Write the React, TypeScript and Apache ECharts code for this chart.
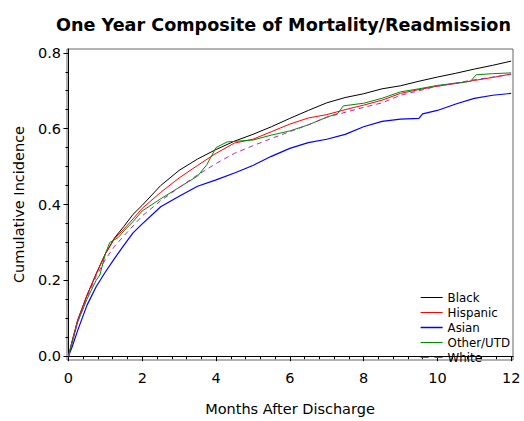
import React, { useEffect, useRef } from "react";
import * as echarts from "echarts";

// [months, cumulative incidence]
const black: [number, number][] = [
  [0, 0], [0.1, 0.04], [0.25, 0.095], [0.5, 0.16], [0.75, 0.217], [1, 0.27], [1.25, 0.312], [1.5, 0.342],
  [1.75, 0.374], [2, 0.398], [2.5, 0.45], [3, 0.49], [3.5, 0.52], [4, 0.545], [4.5, 0.567], [5, 0.585],
  [5.5, 0.605], [6, 0.627], [6.5, 0.648], [7, 0.668], [7.5, 0.682], [8, 0.692], [8.5, 0.705], [9, 0.713],
  [9.5, 0.725], [10, 0.736], [10.5, 0.746], [11, 0.757], [11.5, 0.767], [12, 0.778],
];
const hispanic: [number, number][] = [
  [0, 0], [0.1, 0.04], [0.25, 0.095], [0.5, 0.16], [0.75, 0.217], [1, 0.27], [1.25, 0.31], [1.5, 0.335],
  [1.75, 0.362], [2, 0.39], [2.5, 0.432], [3, 0.47], [3.5, 0.503], [4, 0.535], [4.5, 0.562], [5, 0.572],
  [5.5, 0.592], [6, 0.612], [6.5, 0.628], [7, 0.637], [7.5, 0.65], [8, 0.662], [8.5, 0.675], [9, 0.693],
  [9.5, 0.703], [10, 0.712], [10.5, 0.719], [11, 0.727], [11.5, 0.735], [12, 0.744],
];
const asian: [number, number][] = [
  [0, 0], [0.1, 0.025], [0.25, 0.068], [0.5, 0.134], [0.75, 0.183], [1, 0.222], [1.25, 0.258], [1.5, 0.292],
  [1.75, 0.325], [2, 0.349], [2.5, 0.394], [3, 0.422], [3.5, 0.448], [4, 0.465], [4.5, 0.483], [5, 0.503],
  [5.5, 0.527], [6, 0.548], [6.5, 0.563], [7, 0.572], [7.5, 0.585], [8, 0.605], [8.5, 0.619], [9, 0.625],
  [9.5, 0.627], [9.6, 0.639], [10, 0.648], [10.5, 0.665], [11, 0.68], [11.5, 0.688], [12, 0.693],
];
const otherUTD: [number, number][] = [
  [0, 0], [0.1, 0.035], [0.25, 0.09], [0.5, 0.15], [0.75, 0.2], [0.85, 0.214], [1, 0.27], [1.12, 0.3],
  [1.35, 0.313], [1.5, 0.33], [1.75, 0.355], [2, 0.383], [2.5, 0.415], [3, 0.445], [3.5, 0.475], [3.75, 0.505],
  [4, 0.55], [4.3, 0.565], [5, 0.57], [5.5, 0.583], [6, 0.594], [6.5, 0.61], [7, 0.63], [7.3, 0.64],
  [7.45, 0.66], [8, 0.667], [8.5, 0.68], [9, 0.697], [9.5, 0.705], [10, 0.714], [10.5, 0.72], [10.9, 0.725],
  [11.05, 0.742], [11.5, 0.745], [12, 0.747],
];
const white: [number, number][] = [
  [0, 0], [0.1, 0.038], [0.25, 0.09], [0.5, 0.155], [0.75, 0.21], [1, 0.255], [1.25, 0.29], [1.5, 0.317],
  [2, 0.37], [2.5, 0.41], [3, 0.445], [3.5, 0.478], [4, 0.508], [4.5, 0.535], [5, 0.555], [5.5, 0.574],
  [6, 0.592], [6.5, 0.61], [7, 0.63], [7.5, 0.643], [8, 0.656], [8.5, 0.668], [9, 0.688], [9.5, 0.7],
  [10, 0.712], [10.5, 0.72], [11, 0.729], [11.5, 0.736], [12, 0.743],
];

const xMajor = [0, 2, 4, 6, 8, 10, 12];
const xMinor = [0.4, 0.8, 1.2, 1.6, 2.4, 2.8, 3.2, 3.6, 4.4, 4.8, 5.2, 5.6, 6.4, 6.8, 7.2, 7.6, 8.4, 8.8, 9.2, 9.6, 10.4, 10.8, 11.2, 11.6];
const yMajor = [0, 0.2, 0.4, 0.6, 0.8];
const yMinor = [0.05, 0.1, 0.15, 0.25, 0.3, 0.35, 0.45, 0.5, 0.55, 0.65, 0.7, 0.75];

const FONT = "DejaVu Sans";
const SOLID = "path://M0,0H22V1H0Z";
const SOLID_THICK = "path://M0,0H22V1.5H0Z";
const DASHED = "path://M0,0H7V1H0Z M12,0H19V1H12Z";

export default function App() {
  const ref = useRef<HTMLDivElement>(null);
  useEffect(() => {
    const chart = echarts.init(ref.current!, null, { renderer: "svg" });
    const xBase = { type: "value", min: -0.04, max: 12.05, splitLine: { show: false } };
    const yBase = { type: "value", min: -0.01, max: 0.81, splitLine: { show: false } };
    const mk = (name: string, data: [number, number][], color: string, extra: any = {}) => ({
      name,
      type: "line",
      data,
      symbol: "none",
      showSymbol: false,
      lineStyle: { color, width: 1, ...extra },
      itemStyle: { color },
      xAxisIndex: 0,
      yAxisIndex: 0,
    });
    chart.setOption({
      animation: false,
      backgroundColor: "#fff",
      title: {
        text: "One Year Composite of Mortality/Readmission",
        left: 51,
        top: 11,
        textStyle: { fontFamily: FONT, fontWeight: "bold", fontSize: 17.6, color: "#000" },
      },
      grid: { left: 67, top: 49, right: 11, bottom: 54, show: true, borderColor: "#666", borderWidth: 1 },
      xAxis: [
        {
          ...xBase,
          position: "bottom",
          name: "Months After Discharge",
          nameLocation: "middle",
          nameGap: 41,
          nameTextStyle: { fontFamily: FONT, fontSize: 14.5, color: "#000" },
          axisLine: { show: true, lineStyle: { color: "#000", width: 1 } },
          axisTick: { show: true, length: 5, customValues: xMajor, lineStyle: { color: "#000" } },
          axisLabel: { customValues: xMajor, fontFamily: FONT, fontSize: 14.5, color: "#000", margin: 10 },
        },
        {
          ...xBase,
          position: "bottom",
          offset: 0,
          axisLine: { show: false },
          axisTick: { show: true, length: 3, customValues: xMinor, lineStyle: { color: "#000" } },
          axisLabel: { show: false },
        },
      ],
      yAxis: [
        {
          ...yBase,
          position: "left",
          name: "Cumulative Incidence",
          nameLocation: "middle",
          nameGap: 41,
          nameTextStyle: { fontFamily: FONT, fontSize: 14.5, color: "#000" },
          axisLine: { show: true, lineStyle: { color: "#000", width: 1 } },
          axisTick: { show: true, length: 5, customValues: yMajor, lineStyle: { color: "#000" } },
          axisLabel: {
            customValues: yMajor,
            fontFamily: FONT,
            fontSize: 14.5,
            color: "#000",
            margin: 6,
            formatter: (v: number) => v.toFixed(1),
          },
        },
        {
          ...yBase,
          position: "left",
          offset: 0,
          axisLine: { show: false },
          axisTick: { show: true, length: 3, customValues: yMinor, lineStyle: { color: "#000" } },
          axisLabel: { show: false },
        },
      ],
      legend: {
        orient: "vertical",
        right: 9,
        top: 286,
        itemWidth: 22,
        itemHeight: 8,
        itemGap: 2,
        align: "left",
        symbolKeepAspect: true,
        textStyle: { fontFamily: FONT, fontSize: 11.8, color: "#000", lineHeight: 13 },
        data: [
          { name: "Black", icon: SOLID },
          { name: "Hispanic", icon: SOLID },
          { name: "Asian", icon: SOLID_THICK },
          { name: "Other/UTD", icon: SOLID },
          { name: "White", icon: DASHED },
        ],
      },
      series: [
        mk("Black", black, "#000000"),
        mk("Hispanic", hispanic, "#ff0000"),
        mk("Asian", asian, "#0000ff", { width: 1.2 }),
        mk("Other/UTD", otherUTD, "#008a00"),
        mk("White", white, "#a030b8", { type: [5, 4] }),
      ],
    });
    return () => chart.dispose();
  }, []);
  return <div ref={ref} style={{ width: 524, height: 421, position: "absolute", left: 0, top: 0 }} />;
}
